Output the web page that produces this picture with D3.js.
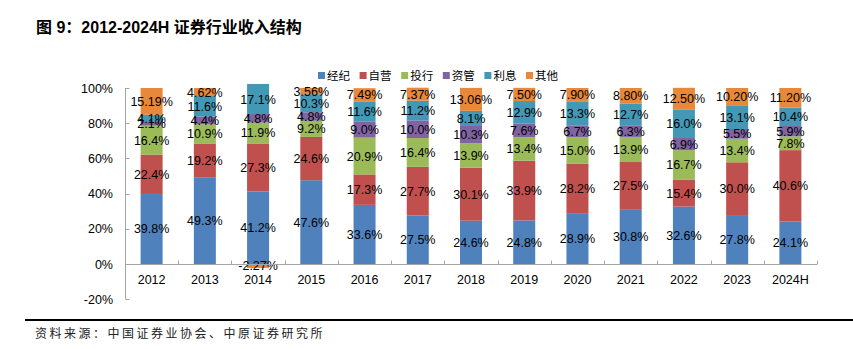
<!DOCTYPE html>
<html>
<head>
<meta charset="utf-8">
<script src="https://cdn.jsdelivr.net/npm/d3@7"></script>
<style>
  body { margin: 0; background: #fff; }
  svg text { font-family: "Liberation Sans", Arial, "Noto Sans CJK SC", sans-serif; }
</style>
</head>
<body>
<div id="chart"></div>
<script>
// categories and series (percent of revenue)
var years = ["2012", "2013", "2014", "2015", "2016", "2017", "2018", "2019", "2020", "2021", "2022", "2023", "2024H"];
var seriesNames = ["经纪", "自营", "投行", "资管", "利息", "其他"];
var brokerage = [39.8, 49.3, 41.2, 47.6, 33.6, 27.5, 24.6, 24.8, 28.9, 30.8, 32.6, 27.8, 24.1];
var proprietary = [22.4, 19.2, 27.3, 24.6, 17.3, 27.7, 30.1, 33.9, 28.2, 27.5, 15.4, 30.0, 40.6];
var banking = [16.4, 10.9, 11.9, 9.2, 20.9, 16.4, 13.9, 13.4, 15.0, 13.9, 16.7, 13.4, 7.8];
var assetMgmt = [2.1, 4.4, 4.8, 4.8, 9.0, 10.0, 10.3, 7.6, 6.7, 6.3, 6.9, 5.5, 5.9];
var interest = [4.1, 11.6, 17.1, 10.3, 11.6, 11.2, 8.1, 12.9, 13.3, 12.7, 16.0, 13.1, 10.4];
var other = [15.19, 4.62, -2.27, 3.56, 7.49, 7.37, 13.06, 7.50, 7.90, 8.80, 12.50, 10.20, 11.20];
var yTicks = [-20, 0, 20, 40, 60, 80, 100];

var colors = ["#4f81bd", "#c0504d", "#9bbb59", "#8064a2", "#4298b5", "#e8883a"];
var allSeries = [brokerage, proprietary, banking, assetMgmt, interest, other];

var W = 853, H = 349;
var svg = d3.select("#chart").append("svg").attr("width", W).attr("height", H);

// title
svg.append("text")
  .attr("x", 36).attr("y", 33)
  .attr("font-size", "16px").attr("font-weight", "bold")
  .style("font-family", "'Liberation Sans', 'Noto Sans CJK SC', sans-serif")
  .attr("fill", "#000")
  .text("图 9：2012-2024H 证券行业收入结构");

var x = d3.scaleBand().domain(years).range([125, 817]);
var y = d3.scaleLinear().domain([-20, 100]).range([299.2, 88]);
var barW = 22;

var rows = years.map(function(yr, i) {
  var r = { year: yr };
  seriesNames.forEach(function(s, k) { r[s] = allSeries[k][i]; });
  return r;
});
var stacked = d3.stack().keys(seriesNames).offset(d3.stackOffsetDiverging)(rows);

// bars
var g = svg.append("g");
stacked.forEach(function(layer, k) {
  g.selectAll(".bar" + k).data(layer).enter().append("rect")
    .attr("x", function(d) { return x(d.data.year) + x.bandwidth() / 2 - barW / 2; })
    .attr("y", function(d) { return y(d[1]); })
    .attr("width", barW)
    .attr("height", function(d) { return y(d[0]) - y(d[1]); })
    .attr("fill", colors[k]);
});

// axes
var axisColor = "#a6a6a6";
svg.append("line").attr("x1", 125.5).attr("x2", 125.5).attr("y1", y(100)).attr("y2", y(-20))
  .attr("stroke", axisColor);
yTicks.forEach(function(t) {
  svg.append("line").attr("x1", 125.5).attr("x2", 129.5)
    .attr("y1", Math.round(y(t)) + 0.5).attr("y2", Math.round(y(t)) + 0.5).attr("stroke", axisColor);
  svg.append("text").attr("x", 113).attr("y", y(t) + 4.5)
    .attr("text-anchor", "end").attr("font-size", "12.5px").attr("fill", "#000")
    .text(t + "%");
});
var y0 = Math.round(y(0)) + 0.5;
svg.append("line").attr("x1", 125).attr("x2", 817).attr("y1", y0).attr("y2", y0).attr("stroke", axisColor);
years.forEach(function(yr, i) {
  var xe = Math.round(x(yr) + x.bandwidth()) + 0.5;
  svg.append("line").attr("x1", xe).attr("x2", xe).attr("y1", y0).attr("y2", y0 - 4).attr("stroke", axisColor);
  svg.append("text").attr("x", x(yr) + x.bandwidth() / 2).attr("y", 284)
    .attr("text-anchor", "middle").attr("font-size", "12.5px").attr("fill", "#000")
    .text(yr);
});

// data labels
stacked.forEach(function(layer, k) {
  g.selectAll(".lab" + k).data(layer).enter().append("text")
    .attr("x", function(d) { return x(d.data.year) + x.bandwidth() / 2; })
    .attr("y", function(d) { return y((d[0] + d[1]) / 2) + 4.5; })
    .attr("text-anchor", "middle").attr("font-size", "12.5px").attr("fill", "#000")
    .text(function(d) {
      var v = d.data[seriesNames[k]];
      return (k === 5 ? v.toFixed(2) : v.toFixed(1)) + "%";
    });
});

// legend
var lg = svg.append("g");
seriesNames.forEach(function(s, k) {
  var lx = 318 + k * 41.6;
  lg.append("rect").attr("x", lx).attr("y", 72).attr("width", 7).attr("height", 7).attr("fill", colors[k]);
  lg.append("text").attr("x", lx + 9).attr("y", 80)
    .attr("font-size", "11.5px").attr("fill", "#000")
    .style("font-family", "'Noto Sans CJK SC', sans-serif")
    .text(s);
});

// footer
svg.append("line").attr("x1", 25).attr("x2", 853).attr("y1", 320).attr("y2", 320)
  .attr("stroke", "#000").attr("stroke-width", 2);
svg.append("text").attr("x", 35).attr("y", 338)
  .attr("font-size", "12px").attr("fill", "#222")
  .style("font-family", "'Noto Sans CJK SC', sans-serif")
  .style("letter-spacing", "2.5px")
  .text("资料来源：中国证券业协会、中原证券研究所");
</script>
</body>
</html>
